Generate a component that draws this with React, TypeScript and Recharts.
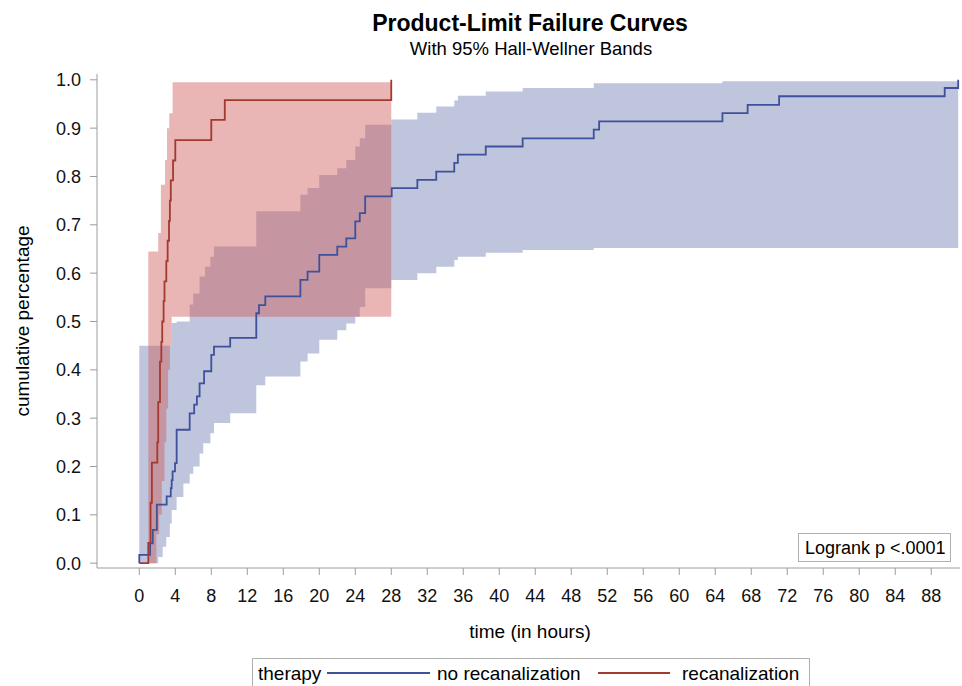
import React from 'react';
import { ComposedChart, Area, Line, XAxis, YAxis } from 'recharts';

const FONT = '"Liberation Sans", Arial, Helvetica, sans-serif';
const BLUE = '#3F519A';
const RED = '#A23A2E';
const BLUE_FILL = '#6F7EB3';
const RED_FILL = '#D05B5B';
const FRAME = '#9c9c9c';

const xTicks = [0, 4, 8, 12, 16, 20, 24, 28, 32, 36, 40, 44, 48, 52, 56, 60, 64, 68, 72, 76, 80, 84, 88];
const yTicks = [0, 0.1, 0.2, 0.3, 0.4, 0.5, 0.6, 0.7, 0.8, 0.9, 1.0];

// no recanalization: product-limit failure estimate
const blueT = [0, 0, 1.2, 1.5, 1.95, 3.04, 3.5, 3.6, 3.7, 3.97, 4.15, 5.6, 6.1, 6.4, 6.7, 7.2, 8.0, 8.3, 10.1, 13.0, 13.3, 14.0, 17.9, 18.7, 20.0, 22.0, 23.0, 24.0, 24.5, 25.1, 28.05, 30.9, 33.0, 35.0, 35.4, 38.5, 42.6, 50.5, 51.1, 64.8, 67.6, 71.1, 89.5, 91.0];
const blueV = [0, 0.017, 0.041, 0.069, 0.121, 0.138, 0.155, 0.172, 0.19, 0.207, 0.276, 0.31, 0.328, 0.345, 0.372, 0.397, 0.431, 0.448, 0.466, 0.517, 0.534, 0.552, 0.586, 0.603, 0.638, 0.655, 0.672, 0.707, 0.724, 0.759, 0.776, 0.793, 0.81, 0.828, 0.845, 0.862, 0.879, 0.897, 0.914, 0.931, 0.948, 0.966, 0.983, 1.0];

// no recanalization: Hall-Wellner band
const blueUpT = [0, 3.6, 4.15, 5.6, 6.0, 6.7, 7.3, 7.9, 8.3, 13.0, 17.9, 18.7, 20.0, 22.0, 23.0, 24.0, 24.5, 25.1, 28.0, 30.9, 33.0, 35.0, 35.4, 38.5, 42.6, 50.5, 64.8, 91.0];
const blueUpV = [0.45, 0.497, 0.5, 0.535, 0.558, 0.593, 0.613, 0.634, 0.655, 0.728, 0.762, 0.776, 0.803, 0.817, 0.834, 0.862, 0.879, 0.907, 0.918, 0.932, 0.945, 0.957, 0.967, 0.976, 0.983, 0.993, 0.997, 0.997];
const blueLoT = [0, 2.1, 2.6, 3.0, 3.4, 3.6, 4.15, 4.9, 5.6, 6.0, 6.7, 7.1, 7.9, 8.3, 10.1, 13.0, 14.0, 17.9, 18.7, 20.0, 22.0, 23.0, 24.0, 24.5, 25.1, 28.0, 30.9, 33.0, 35.0, 35.4, 38.5, 42.6, 50.5, 91.0];
const blueLoV = [0, 0.013, 0.034, 0.054, 0.082, 0.11, 0.137, 0.165, 0.185, 0.2, 0.227, 0.248, 0.269, 0.29, 0.31, 0.368, 0.386, 0.417, 0.434, 0.462, 0.482, 0.496, 0.51, 0.53, 0.569, 0.586, 0.6, 0.613, 0.627, 0.634, 0.642, 0.648, 0.652, 0.655];

// recanalization: product-limit failure estimate
const redT = [0, 1.0, 1.25, 1.4, 2.0, 2.1, 2.3, 2.45, 2.55, 2.7, 2.8, 3.0, 3.15, 3.3, 3.4, 3.5, 3.75, 4.0, 8.0, 9.5, 28.0];
const redV = [0, 0.042, 0.125, 0.208, 0.25, 0.333, 0.417, 0.458, 0.5, 0.542, 0.583, 0.625, 0.667, 0.708, 0.75, 0.792, 0.833, 0.875, 0.917, 0.958, 1.0];

// recanalization: Hall-Wellner band
const redUpT = [1.0, 2.1, 2.4, 2.86, 3.08, 3.33, 3.7, 28.0];
const redUpV = [0.645, 0.683, 0.783, 0.834, 0.9, 0.931, 0.995, 0.995];
const redLoT = [1.0, 1.9, 2.2, 2.5, 2.8, 3.0, 3.2, 3.4, 3.6, 28.0];
const redLoV = [0, 0.06, 0.1, 0.17, 0.25, 0.32, 0.4, 0.45, 0.51, 0.51];

const X_DOMAIN: [number, number] = [-4.7, 91.2];
const Y_DOMAIN: [number, number] = [-0.01, 1.012];

function stepAt(ts: number[], vs: number[], t: number) {
  let v = vs[0];
  for (let i = 0; i < ts.length; i++) if (ts[i] <= t) v = vs[i];
  return v;
}

function buildBand(upT: number[], upV: number[], loT: number[], loV: number[]) {
  const times = Array.from(new Set([...upT, ...loT])).sort((a, b) => a - b);
  return times.map((t) => ({ t, band: [stepAt(loT, loV, t), stepAt(upT, upV, t)] }));
}

function buildLine(ts: number[], vs: number[]) {
  return ts.map((t, i) => ({ t, v: vs[i] }));
}

const blueBand = buildBand(blueUpT, blueUpV, blueLoT, blueLoV);
const redBand = buildBand(redUpT, redUpV, redLoT, redLoV);
const blueLine = buildLine(blueT, blueV);
const redLine = buildLine(redT, redV);

export default function App() {
  const tickStyle = { fill: '#111', fontSize: 18, fontFamily: FONT };
  return (
    <div style={{ position: 'absolute', left: 0, top: 0, width: 962, height: 686, background: '#fff', overflow: 'hidden' }}>
      <ComposedChart width={962} height={686} margin={{ top: 74, right: 2, bottom: 88, left: 10 }}>
        <XAxis
          xAxisId="b"
          type="number"
          dataKey="t"
          domain={X_DOMAIN}
          ticks={xTicks}
          interval={0}
          allowDataOverflow
          height={30}
          tickSize={7}
          tickMargin={14}
          axisLine={{ stroke: FRAME }}
          tickLine={{ stroke: FRAME }}
          tick={tickStyle}
        />
        <XAxis
          xAxisId="top"
          orientation="top"
          type="number"
          domain={X_DOMAIN}
          allowDataOverflow
          height={0}
          tick={false}
          tickLine={false}
          axisLine={{ stroke: FRAME }}
        />
        <YAxis
          yAxisId="l"
          type="number"
          domain={Y_DOMAIN}
          ticks={yTicks}
          interval={0}
          allowDataOverflow
          width={87}
          tickSize={7}
          tickMargin={9}
          axisLine={{ stroke: FRAME }}
          tickLine={{ stroke: FRAME }}
          tick={tickStyle}
          tickFormatter={(v: number) => v.toFixed(1)}
        />
        <YAxis
          yAxisId="r"
          orientation="right"
          type="number"
          domain={Y_DOMAIN}
          allowDataOverflow
          width={0}
          tick={false}
          tickLine={false}
          axisLine={{ stroke: FRAME }}
        />
        <Area
          xAxisId="b"
          yAxisId="l"
          data={blueBand}
          dataKey="band"
          type="stepAfter"
          stroke="none"
          fill={BLUE_FILL}
          fillOpacity={0.45}
          dot={false}
          activeDot={false}
          isAnimationActive={false}
        />
        <Area
          xAxisId="b"
          yAxisId="l"
          data={redBand}
          dataKey="band"
          type="stepAfter"
          stroke="none"
          fill={RED_FILL}
          fillOpacity={0.45}
          dot={false}
          activeDot={false}
          isAnimationActive={false}
        />
        <Line
          xAxisId="b"
          yAxisId="l"
          data={blueLine}
          dataKey="v"
          type="stepAfter"
          stroke={BLUE}
          strokeWidth={1.8}
          dot={false}
          activeDot={false}
          isAnimationActive={false}
        />
        <Line
          xAxisId="b"
          yAxisId="l"
          data={redLine}
          dataKey="v"
          type="stepAfter"
          stroke={RED}
          strokeWidth={1.8}
          dot={false}
          activeDot={false}
          isAnimationActive={false}
        />
      </ComposedChart>
      <svg
        width={962}
        height={686}
        style={{ position: 'absolute', left: 0, top: 0, pointerEvents: 'none' }}
        fontFamily={FONT}
      >
        <text x={530} y={31} textAnchor="middle" fontWeight="bold" fontSize={23} fill="#000">
          Product-Limit Failure Curves
        </text>
        <text x={531} y={55} textAnchor="middle" fontSize={18.5} fill="#000">
          With 95% Hall-Wellner Bands
        </text>
        <text transform="translate(29,321) rotate(-90)" textAnchor="middle" fontSize={19} fill="#000">
          cumulative percentage
        </text>
        <text x={530} y={638} textAnchor="middle" fontSize={19} fill="#000">
          time (in hours)
        </text>
        <rect x={798.5} y={533.5} width={152} height={28} fill="#fff" stroke="#b0b0b0" />
        <text x={805} y={554} fontSize={18} fill="#000">
          Logrank p &lt;.0001
        </text>
        <rect x={252.5} y={658.5} width={557} height={40} fill="#fff" stroke="#b0b0b0" />
        <text x={258} y={680} fontSize={19} fill="#000">therapy</text>
        <line x1={327} x2={430} y1={673} y2={673} stroke={BLUE} strokeWidth={1.8} />
        <text x={437} y={680} fontSize={19} fill="#000">no recanalization</text>
        <line x1={598} x2={670} y1={673} y2={673} stroke={RED} strokeWidth={1.8} />
        <text x={682} y={680} fontSize={19} fill="#000">recanalization</text>
      </svg>
    </div>
  );
}
